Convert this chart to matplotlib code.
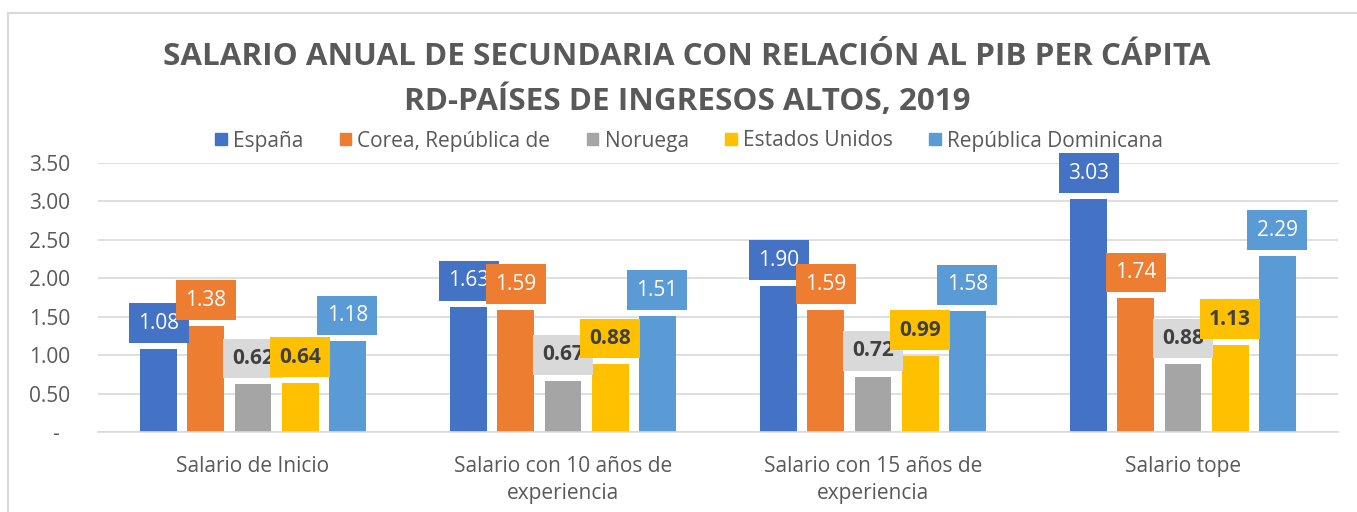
import matplotlib
matplotlib.use("Agg")
import matplotlib.pyplot as plt
from matplotlib.patches import Patch
import numpy as np

plt.rcParams['font.family'] = ['Open Sans', 'DejaVu Sans']

categories = ["Salario de Inicio", "Salario con 10 años de\nexperiencia",
              "Salario con 15 años de\nexperiencia", "Salario tope"]
series_names = ["España", "Corea, República de", "Noruega", "Estados Unidos", "República Dominicana"]
espana = [1.08, 1.63, 1.90, 3.03]
corea = [1.38, 1.59, 1.59, 1.74]
noruega = [0.62, 0.67, 0.72, 0.88]
eeuu = [0.64, 0.88, 0.99, 1.13]
rd = [1.18, 1.51, 1.58, 2.29]
series_values = [espana, corea, noruega, eeuu, rd]
colors = ["#4472C4", "#ED7D31", "#A5A5A5", "#FFC000", "#5B9BD5"]
label_bg = ["#4472C4", "#ED7D31", "#D9D9D9", "#FFC000", "#5B9BD5"]
label_fg = ["white", "white", "#404040", "#404040", "white"]
label_weight = ["normal", "normal", "bold", "bold", "normal"]
yticks = [0, 0.5, 1.0, 1.5, 2.0, 2.5, 3.0, 3.5]

W, H = 1357, 512
fig = plt.figure(figsize=(W / 100, H / 100), dpi=100)
ax = fig.add_axes([98 / W, 1 - 432 / H, (1338 - 98) / W, (432 - 163) / H])

x = np.arange(len(categories))
step = 0.152
width = 0.119
text_gray = "#595959"

for i, (vals, c) in enumerate(zip(series_values, colors)):
    ax.bar(x + (i - 2) * step, vals, width, color=c, zorder=2, label=series_names[i])

for i, vals in enumerate(series_values):
    for j, v in enumerate(vals):
        ax.annotate(f"{v:.2f}", xy=(x[j] + (i - 2) * step, v), xytext=(0, 11),
                    textcoords="offset points", ha="center", va="bottom",
                    fontsize=15, color=label_fg[i], fontweight=label_weight[i],
                    zorder=5 + i,
                    bbox=dict(boxstyle="square,pad=0.45", fc=label_bg[i], ec="none"))

ax.set_ylim(0, 3.5)
ax.set_xlim(-0.5, 3.5)
ax.set_yticks(yticks)
ax.set_yticklabels(["-  " if t == 0 else f"{t:.2f}" for t in yticks])
ax.set_xticks(x)
ax.set_xticklabels(categories, linespacing=1.35)
ax.tick_params(axis="both", length=0, labelsize=15, colors=text_gray)
ax.tick_params(axis="y", pad=20)
ax.tick_params(axis="x", pad=17.5)
ax.grid(axis="y", color="#D9D9D9", linewidth=1.2, zorder=0)
ax.set_axisbelow(True)
for s in ["top", "right", "left"]:
    ax.spines[s].set_visible(False)
ax.spines["bottom"].set_color("#D9D9D9")
ax.spines["bottom"].set_linewidth(1.2)

fig.text(687 / W, 1 - 57 / H, "SALARIO ANUAL DE SECUNDARIA CON RELACIÓN AL PIB PER CÁPITA",
         ha="center", va="center", fontsize=22.6, fontweight="bold", color=text_gray)
fig.text(687 / W, 1 - 101 / H, "RD-PAÍSES DE INGRESOS ALTOS, 2019",
         ha="center", va="center", fontsize=22.6, fontweight="bold", color=text_gray)

handles = [Patch(color=c) for c in colors]
fig.legend(handles, series_names, loc="center", bbox_to_anchor=(689 / W, 1 - 141 / H),
           ncol=5, frameon=False, fontsize=15, labelcolor=text_gray,
           handlelength=0.55, handleheight=0.55, handletextpad=0.3, columnspacing=1.75)

# figure border (left and top visible)
fig.add_artist(plt.Line2D([8 / W, 8 / W], [0, 1 - 13 / H], transform=fig.transFigure,
                          color="#D9D9D9", linewidth=1.5))
fig.add_artist(plt.Line2D([8 / W, 1], [1 - 13 / H, 1 - 13 / H], transform=fig.transFigure,
                          color="#D9D9D9", linewidth=1.5))

fig.savefig("out.png", dpi=100)
